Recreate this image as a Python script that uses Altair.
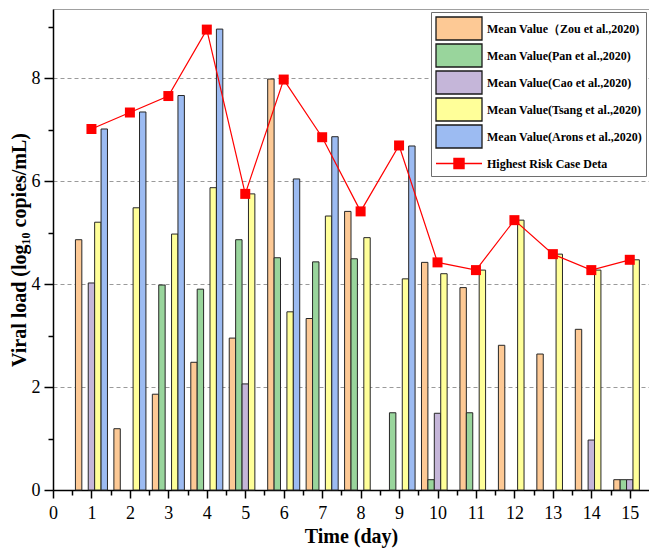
import altair as alt
import pandas as pd

# ---------------- data ----------------
days = list(range(1, 16))

series_names = [
    "Mean Value（Zou et al.,2020)",
    "Mean Value(Pan et al.,2020)",
    "Mean Value(Cao et al.,2020)",
    "Mean Value(Tsang et al.,2020)",
    "Mean Value(Arons et al.,2020)",
]
line_name = "Highest Risk Case Deta"

zou = [4.86, 1.19, 1.86, 2.48, 2.95, 7.98, 3.33, 5.41, None, 4.42, 3.93, 2.81, 2.64, 3.12, 0.20]
pan = [None, None, 3.98, 3.90, 4.86, 4.51, 4.43, 4.49, 1.50, 0.20, 1.50, None, None, None, 0.20]
cao = [4.02, None, None, None, 2.06, None, None, None, None, 1.49, None, None, None, 0.97, 0.20]
tsang = [5.20, 5.48, 4.97, 5.87, 5.75, 3.46, 5.32, 4.90, 4.10, 4.20, 4.27, 5.24, 4.58, 4.27, 4.47]
arons = [7.01, 7.34, 7.66, 8.95, None, 6.04, 6.86, None, 6.68, None, None, None, None, None, None]
highest = [7.01, 7.33, 7.65, 8.94, 5.75, 7.97, 6.85, 5.41, 6.69, 4.42, 4.27, 5.24, 4.58, 4.27, 4.47]

x_major_ticks = list(range(0, 16))
x_minor_ticks = [i + 0.5 for i in range(15)]
y_major_ticks = [0, 2, 4, 6, 8]
y_minor_ticks = [1, 3, 5, 7, 9]

colors = ["#FDC995", "#99D59C", "#C5B6D9", "#FFFF99", "#9CBBF2", "#FF0000"]
line_color = "#FF0000"

# ---------------- tables ----------------
rows = []
for slot, (name, vals) in enumerate(zip(series_names, [zou, pan, cao, tsang, arons])):
    for d, v in zip(days, vals):
        if v is not None:
            rows.append({"day": d, "series": name, "slot": slot, "value": v})
bar_df = pd.DataFrame(rows)
line_df = pd.DataFrame({"day": days, "value": highest, "series": line_name})

serif = "Liberation Serif"
xscale = alt.Scale(domain=[0, 15.5], nice=False, zero=False)
yscale = alt.Scale(domain=[0, 9.34], nice=False)
cscale = alt.Scale(domain=series_names + [line_name], range=colors)

# legend swatch paths (unit = 11.5 px with symbolSize 529)
SQ = "M-1,-1H3V1H-1Z"
LN = "M-1,0H3M0.56,-0.44H1.44V0.44H0.56Z"

legend = alt.Legend(
    title=None,
    orient="top-right",
    offset=3,
    symbolType=alt.ExprRef(expr=f"datum.value === '{line_name}' ? '{LN}' : '{SQ}'"),
    symbolSize=529,
    symbolStrokeColor=alt.ExprRef(expr=f"datum.value === '{line_name}' ? '#ff0000' : '#1a1a1a'"),
    symbolStrokeWidth=1.3,
    symbolOpacity=1,
    labelFont=serif,
    labelFontSize=12,
    labelFontWeight="bold",
    labelColor="black",
    labelLimit=400,
    labelOffset=27,
    strokeColor="#6e6e6e",
    fillColor="white",
    padding=4,
    rowPadding=-2,
)

x_major = alt.Axis(
    values=x_major_ticks, title="Time (day)", orient="bottom", grid=False,
    tickSize=8, tickWidth=1.5, tickColor="black", domainColor="black", domainWidth=1.5,
    labelFont=serif, labelFontSize=18, labelColor="black", labelPadding=6,
    labelFlush=False, labelOverlap=False,
    titleFont=serif, titleFontSize=20, titleFontWeight="bold", titleColor="black", titlePadding=4,
)
y_major = alt.Axis(
    values=y_major_ticks, title="Viral load (log₁₀ copies/mL)", orient="left",
    grid=True, gridDash=[4, 3], gridColor="#9a9a9a", gridWidth=1,
    tickSize=9, tickWidth=1.5, tickColor="black", domainColor="black", domainWidth=1.5,
    labelFont=serif, labelFontSize=18, labelColor="black", labelPadding=4,
    labelFlush=False, labelOverlap=False,
    titleFont=serif, titleFontSize=20, titleFontWeight="bold", titleColor="black", titlePadding=2,
    zindex=0,
)
x_minor = alt.Axis(values=x_minor_ticks, labels=False, title=None, orient="bottom", grid=False,
                   domain=False, tickSize=5, tickWidth=1.5, tickColor="black")
y_minor = alt.Axis(values=y_minor_ticks, labels=False, title=None, orient="left", grid=False,
                   domain=False, tickSize=5, tickWidth=1.5, tickColor="black")

bars = alt.Chart(bar_df).transform_calculate(
    xa="datum.day + (datum.slot - 2) / 6 - 1 / 12",
    xb="datum.day + (datum.slot - 2) / 6 + 1 / 12",
).mark_bar(stroke="#262626", strokeWidth=1).encode(
    x=alt.X("xa:Q", scale=xscale, axis=x_major),
    x2="xb:Q",
    y=alt.Y("value:Q", scale=yscale, axis=y_major, stack=None),
    y2=alt.datum(0),
    color=alt.Color("series:N", scale=cscale, legend=legend),
)

line = alt.Chart(line_df).mark_line(strokeWidth=1.2, color=line_color).encode(
    x=alt.X("day:Q", scale=xscale, axis=None),
    y=alt.Y("value:Q", scale=yscale, axis=None),
)

pts = alt.Chart(line_df).mark_square(size=100, opacity=1, color=line_color).encode(
    x=alt.X("day:Q", scale=xscale, axis=None),
    y=alt.Y("value:Q", scale=yscale, axis=None),
)

minor = alt.Chart(line_df).mark_point(opacity=0).encode(
    x=alt.X("day:Q", scale=xscale, axis=x_minor),
    y=alt.Y("value:Q", scale=yscale, axis=y_minor),
)

chart = alt.layer(bars, line, pts, minor).resolve_axis(
    x="independent", y="independent"
).properties(
    width=596,
    height=481,
    autosize=alt.AutoSizeParams(type="none"),
    padding={"left": 45, "top": 1, "right": 0, "bottom": 58},
).configure_view(stroke="#a0a0a0", strokeWidth=1)

chart.save("out.html", embed_options={"renderer": "svg", "actions": False})
